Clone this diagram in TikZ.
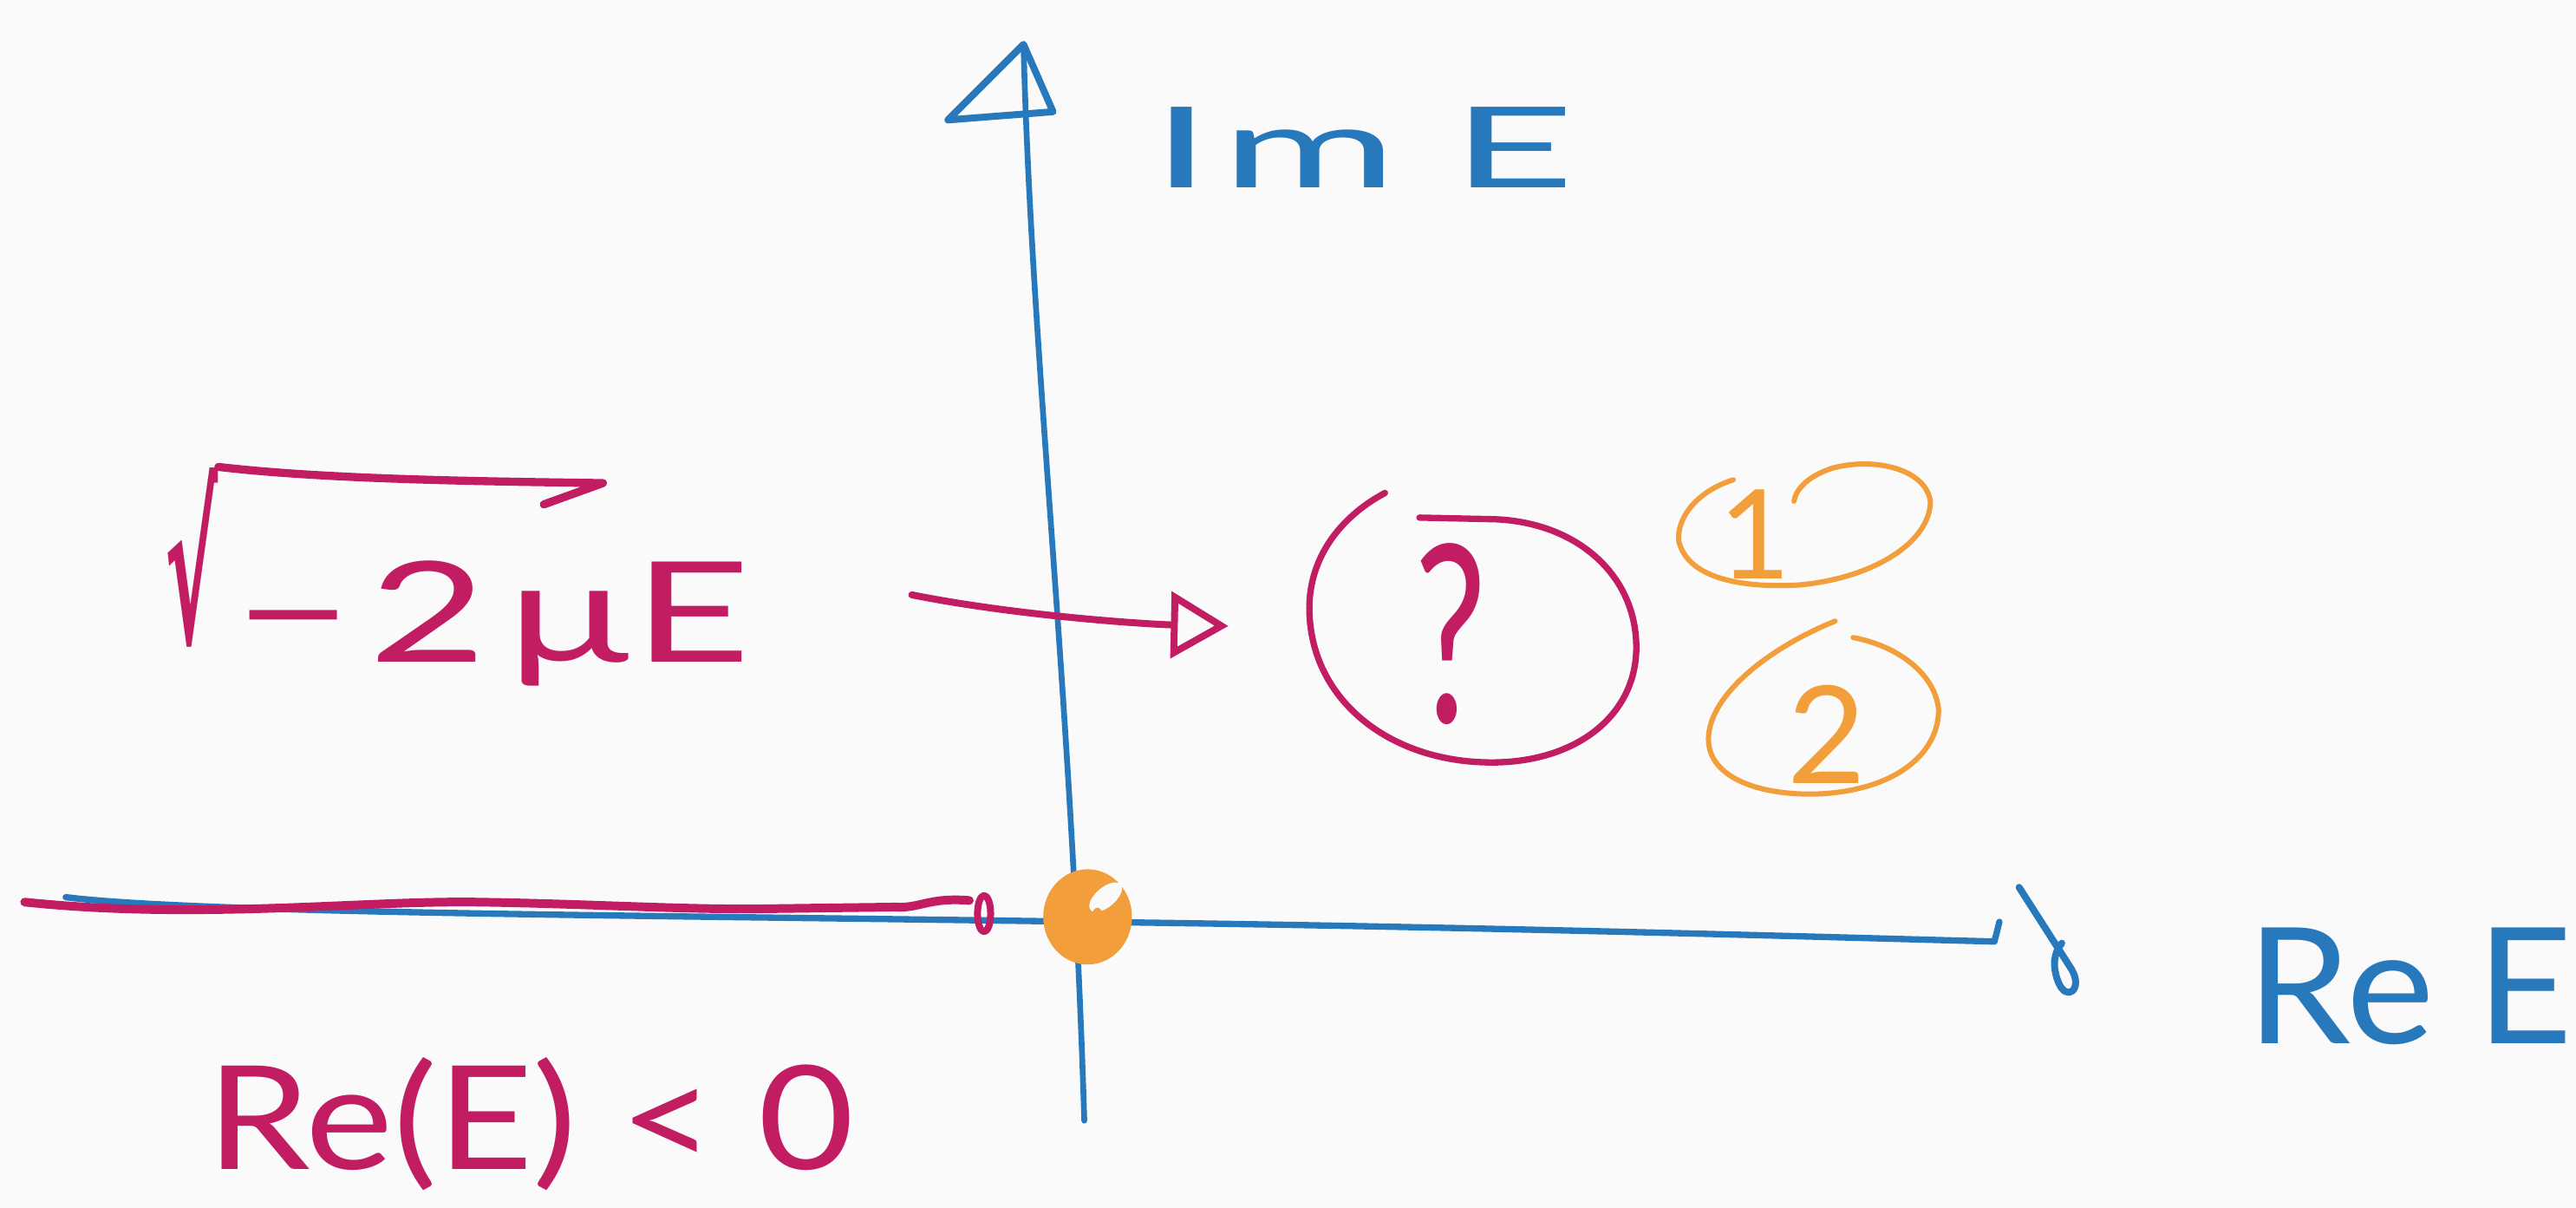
\documentclass[tikz,border=0pt]{standalone}
\usepackage{fontspec}
\setmainfont{Lato}
\newfontfamily\symfont{DejaVu Sans}
\usetikzlibrary{arrows.meta,shapes.geometric}
\definecolor{penblue}{RGB}{40,120,188}
\definecolor{penmag}{RGB}{194,28,98}
\definecolor{penorg}{RGB}{242,158,58}
\definecolor{paper}{RGB}{250,250,250}
\begin{document}
\begin{tikzpicture}[x=0.02cm,y=-0.02cm,
  bluepen/.style={draw=penblue, line width=2pt, line cap=round, line join=round},
  magpen/.style={draw=penmag, line width=2.4pt, line cap=round, line join=round},
  orgpen/.style={draw=penorg, line width=1.8pt, line cap=round, line join=round},
  bluetxt/.style={text=penblue, inner sep=0pt},
  magtxt/.style={text=penmag, inner sep=0pt},
  orgtxt/.style={text=penorg, inner sep=0pt}]
\fill[paper] (0,0) rectangle (1568,735);
\useasboundingbox (0,0) rectangle (1568,735);

% imaginary axis
\coordinate (ytop) at (623,27);
\coordinate (ybot) at (660,682);
\draw[bluepen] (ybot) .. controls (652,420) and (628,220) .. (ytop);
\draw[bluepen, line width=2.4pt] (ytop) -- (577,73) -- (641,68) -- cycle;

% real axis
\coordinate (xl) at (40,546);
\coordinate (xr) at (1214,573);
\draw[bluepen, line width=2.2pt] (xl) .. controls (120,556) and (400,557) .. (660,561) .. controls (900,564) and (1100,570) .. (xr) -- (1217,561);
\draw[bluepen, line width=2.4pt] (1229,540) -- (1261,590) .. controls (1268,602) and (1258,610) .. (1253,598) .. controls (1249,588) and (1250,580) .. (1255,574);

% magenta cut along negative real axis
\draw[magpen, line width=3pt] (15,549) .. controls (120,560) and (220,548) .. (290,549) .. controls (360,550) and (420,554) .. (470,553) -- (545,552) .. controls (560,553) and (565,546) .. (590,548);
\draw[magpen] (599,556) ellipse [x radius=0.08cm, y radius=0.22cm];

% orange origin blob
\fill[penorg] (662,558) ellipse [x radius=0.54cm, y radius=0.58cm];
\fill[paper, rotate around={40:(673,546)}] (673,546) ellipse [x radius=0.24cm, y radius=0.12cm];
\draw[penorg, line width=3pt, line cap=round] (668,555) .. controls (672,565) and (666,570) .. (672,576);

% axis labels
\node[bluetxt, font=\fontsize{41}{45}\selectfont] (im) at (830,90) {\scalebox{1.8}[0.95]{I\kern.05em m E}};
\node[bluetxt, font=\fontsize{56}{60}\selectfont] (re) at (1467,600) {\scalebox{1.03}[1]{Re E}};

% sqrt(-2 mu E)
\node[magtxt, font=\symfont\bfseries\fontsize{50}{54}\selectfont, anchor=south west] (rad) at (100,394) {\scalebox{0.55}[1.45]{√}};
\draw[magpen, line width=2.8pt] (rad.north east) .. controls (200,292) and (300,293) .. (367,294) -- (331,307);
\node[magtxt, font=\fontsize{47}{50}\selectfont, anchor=base] (sq) at (300,403) {\scalebox{1.5}[1.03]{−\kern.08em 2\kern.1em μ\kern.02em E}};
\node[magtxt, font=\fontsize{50}{54}\selectfont] (cond) at (323,684) {\scalebox{1.15}[1]{Re(E) < 0}};

% question mark in ring
\node[ellipse, minimum width=4.0cm, minimum height=3.3cm, inner sep=0pt] (qring) at (896,382) {};
\node[magtxt, font=\fontsize{66}{70}\selectfont] (q) at (883,386) {\scalebox{0.85}[1.3]{?}};
\draw[magpen, line width=2.2pt] (843,300) .. controls (815,315) and (797,340) .. (797,370) .. controls (797,425) and (845,464) .. (908,464) .. controls (960,464) and (996,435) .. (996,394) .. controls (996,350) and (960,318) .. (910,316) -- (864,315);
\coordinate (arrS) at (555,362);
\draw[magpen, -{Triangle[open, length=0.7cm, width=0.8cm, line width=2.4pt]}, shorten >=0.96cm] (arrS) .. controls (620,375) and (700,380) .. (qring.west);

% orange 1 and 2
\node[orgtxt, font=\fontsize{43}{46}\selectfont] (one) at (1068,325) {1};
\draw[orgpen] (1055,292) .. controls (1030,300) and (1020,318) .. (1022,330) .. controls (1028,352) and (1060,358) .. (1095,356) .. controls (1140,352) and (1175,330) .. (1175,305) .. controls (1172,285) and (1140,278) .. (1115,285) .. controls (1100,290) and (1093,298) .. (1092,305);
\node[orgtxt, font=\fontsize{47}{50}\selectfont] (two) at (1112,447) {2};
\draw[orgpen] (1117,378) .. controls (1075,395) and (1038,425) .. (1040,452) .. controls (1042,475) and (1075,485) .. (1110,483) .. controls (1155,480) and (1180,458) .. (1180,432) .. controls (1178,410) and (1155,393) .. (1128,388);
\end{tikzpicture}
\end{document}
